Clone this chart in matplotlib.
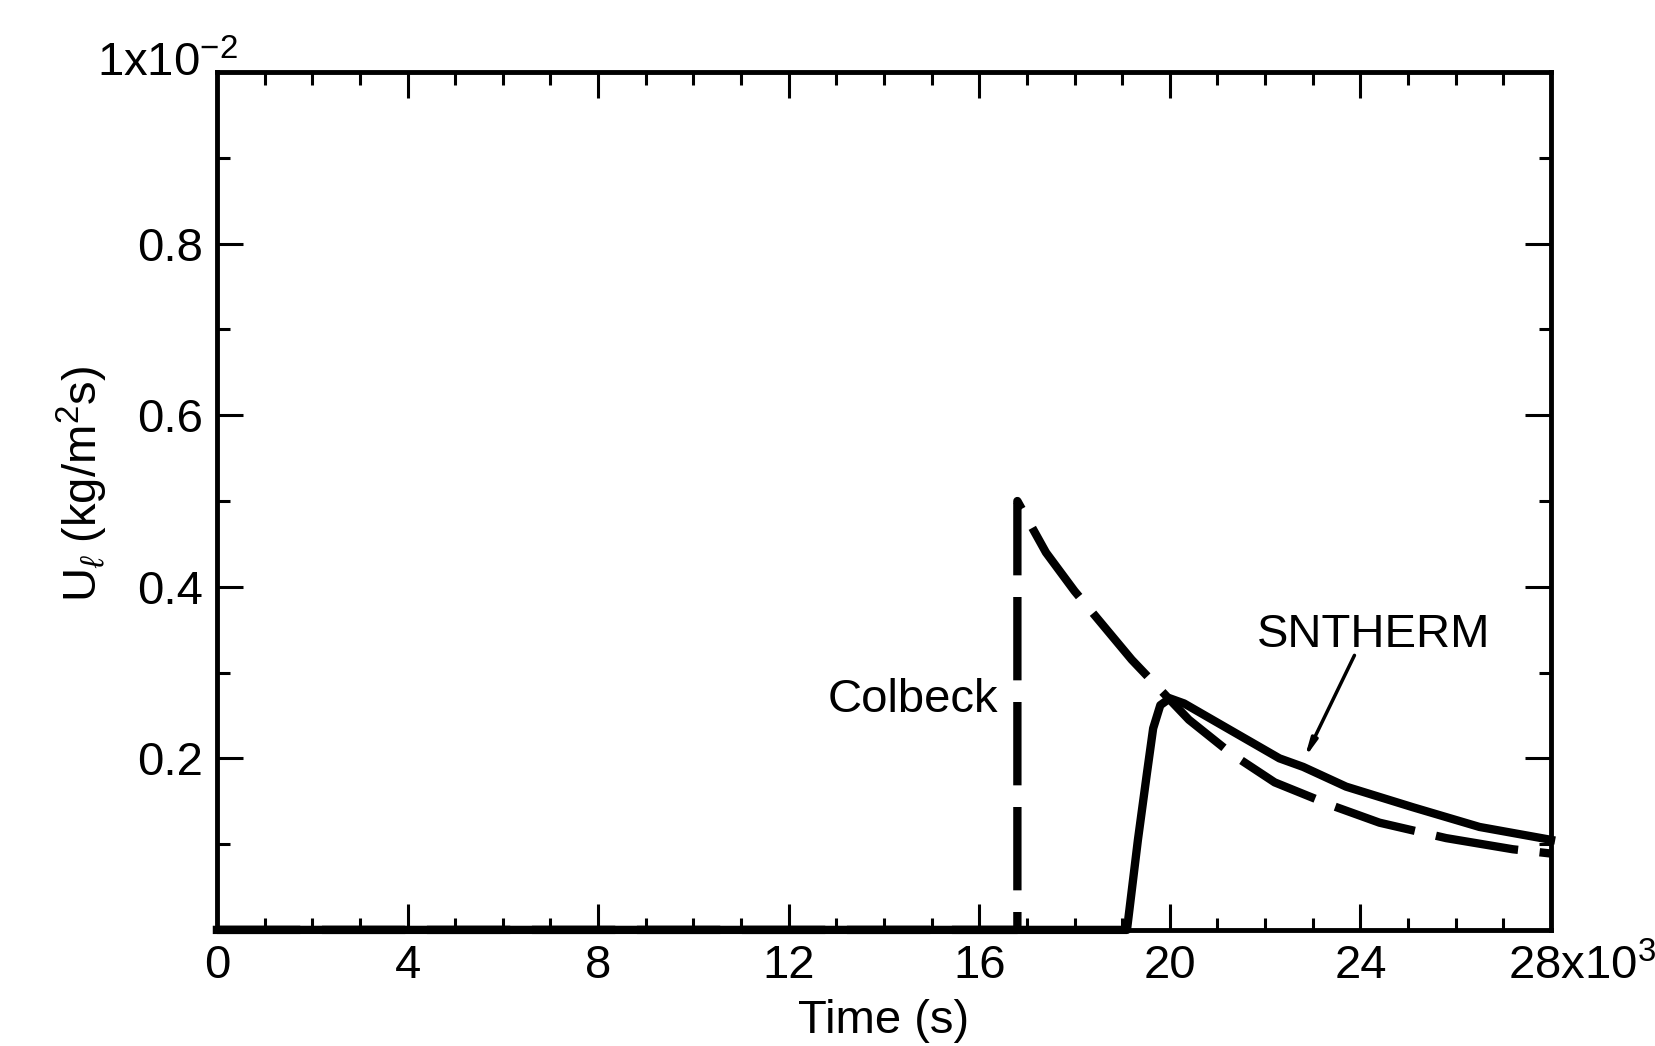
import matplotlib
matplotlib.use("Agg")
import matplotlib.pyplot as plt
from matplotlib.ticker import MultipleLocator

# === Данные (время в 10^3 с, поток в 10^-2 кг/(м^2 с)) ===
colbeck_t = [0.0, 16.8, 16.8, 17.4, 18.0, 18.6, 19.2, 19.8, 20.4, 21.3, 22.2,
             23.4, 24.4, 25.8, 27.2, 28.0]
colbeck_u = [0.0, 0.0, 0.50, 0.44, 0.395, 0.355, 0.315, 0.28, 0.245, 0.205,
             0.172, 0.145, 0.125, 0.107, 0.094, 0.089]

sntherm_t = [0.0, 19.1, 19.33, 19.52, 19.65, 19.8, 20.0, 20.3, 21.3, 22.3,
             22.8, 23.7, 25.1, 26.5, 28.0]
sntherm_u = [0.0, 0.0, 0.105, 0.183, 0.235, 0.262, 0.270, 0.264, 0.232, 0.200,
             0.190, 0.167, 0.143, 0.120, 0.105]

x_ticks = [0, 4, 8, 12, 16, 20, 24, 28]
x_labels = ["0", "4", "8", "12", "16", "20", "24", ""]
y_ticks = [0.0, 0.2, 0.4, 0.6, 0.8, 1.0]
y_labels = ["", "0.2", "0.4", "0.6", "0.8", ""]

# === Шрифт ===
fam = "Liberation Sans"
plt.rcParams["font.family"] = [fam, "DejaVu Sans"]
plt.rcParams["mathtext.fontset"] = "custom"
plt.rcParams["mathtext.rm"] = fam
plt.rcParams["mathtext.it"] = fam + ":italic"
plt.rcParams["mathtext.bf"] = fam + ":bold"
fs = 34

fig = plt.figure(figsize=(16.56, 10.46), dpi=100)
ax = fig.add_axes([0.131, 0.111, 0.8056, 0.820])

# Кривые
ax.plot(colbeck_t, colbeck_u, color="black", lw=6, dashes=(10, 2.6),
        solid_capstyle="butt", clip_on=False)
ax.plot(sntherm_t, sntherm_u, color="black", lw=6, clip_on=False)

ax.set_xlim(0, 28)
ax.set_ylim(0, 1)

# Рамка и деления
for s in ax.spines.values():
    s.set_linewidth(3.5)
ax.xaxis.set_minor_locator(MultipleLocator(1))
ax.yaxis.set_minor_locator(MultipleLocator(0.1))
ax.tick_params(which="both", direction="in", top=True, right=True,
               width=2.2, labelsize=fs, colors="black")
ax.tick_params(which="major", length=19, pad=10)
ax.tick_params(which="minor", length=9)
ax.set_xticks(x_ticks)
ax.set_xticklabels(x_labels)
ax.set_yticks(y_ticks)
ax.set_yticklabels(y_labels)

# Множители осей
ax.text(27.1, -0.058, "28x10$^3$", fontsize=fs, ha="left", va="baseline",
        transform=ax.get_xaxis_transform())
ax.text(0.016, 0.995, "1x10$^{-2}$", fontsize=fs, ha="right", va="baseline",
        transform=ax.transAxes)

ax.set_xlabel("Time (s)", fontsize=fs, labelpad=8)
ax.set_ylabel(r"U$_\ell$ (kg/m$^2$s)", fontsize=fs)
ax.yaxis.set_label_coords(-0.08, 0.52)

# Подписи кривых
ax.text(16.39, 0.268, "Colbeck", fontsize=fs, ha="right", va="center")
ax.text(24.27, 0.344, "SNTHERM", fontsize=fs, ha="center", va="center")
ax.annotate("", xy=(22.8, 0.197), xytext=(23.9, 0.323),
            arrowprops=dict(arrowstyle="-|>,head_length=1.0,head_width=0.18",
                            lw=2.5, color="black"))

fig.savefig("out.png", dpi=100, facecolor="white")
